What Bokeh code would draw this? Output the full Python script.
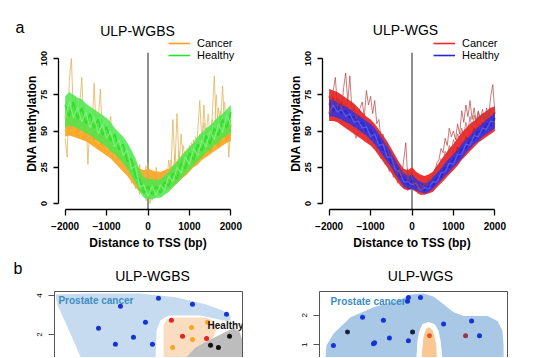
from bokeh.plotting import figure
from bokeh.models import (Legend, LegendItem, LinearAxis, FixedTicker,
                          Label, Range1d)
from bokeh.layouts import column, row
from bokeh.embed import file_html
from bokeh.resources import INLINE

FONT = "Liberation Sans"

# ---------------- data: panel a ----------------
tss_pos = list(range(-2000, 2001, 100))
tss_fine = list(range(-2000, 2001, 50))
x_ticks = [-2000, -1000, 0, 1000, 2000]
x_tick_labels = {-2000: "\u22122000", -1000: "\u22121000", 0: "0", 1000: "1000", 2000: "2000"}
y_ticks = [0, 25, 50, 75, 100]
Y_MIN, Y_MAX = -4.1, 104

wgbs_healthy_hi = [74,77,75,73,72,69,67,65,63,61,59, 56,52,49,46,42,37,31,23,18,17,
                   17,16,17,19,22,26,29,33,36,39, 42,46,49,52,54,57,60,62,65,68]
wgbs_healthy_lo = [52,54,53,52,50,49,47,45,43,41,39, 36,34,31,28,24,19,14,8,4,3,
                   3,4,4,6,8,11,14,17,20,23, 26,29,32,35,37,40,42,45,47,49]
wgbs_cancer_hi = [66,67,65,63,62,60,58,56,54,52,50, 47,44,41,38,35,31,27,24,23,24,
                  23,22,22,23,24,26,28,31,33,35, 38,40,43,45,47,50,52,54,56,58]
wgbs_cancer_lo = [46,47,46,45,44,43,41,39,37,35,33, 31,28,25,22,19,15,11,8,7,7,
                  7,7,8,9,10,12,14,17,19,22, 25,27,30,32,34,36,38,40,42,43]
wgbs_healthy_s1 = [68,60,70,58,66,55,62,52,58,47,53, 43,48,37,41,29,31,18,17,7,12,
                   6,12,7,15,12,21,17,28,24,35, 30,41,36,47,41,52,47,58,52,63]
wgbs_healthy_s2 = [58,71,59,67,56,63,52,60,48,55,45, 50,39,44,33,37,24,26,11,13,5,
                   12,6,13,9,19,15,25,21,32,27, 38,33,44,39,50,44,55,49,61,54]
wgbs_cancer_s1 = [60,52,61,50,58,48,55,44,50,40,46, 36,41,30,34,24,26,15,19,11,18,
                  10,17,11,18,13,22,17,27,22,32, 27,37,32,42,36,46,40,50,44,54]
wgbs_cancer_s2 = [50,61,51,57,49,56,46,51,41,47,37, 43,33,37,27,31,19,22,12,19,10,
                  18,11,17,12,20,15,24,21,29,25, 34,30,38,35,43,38,47,44,51,47]
wgbs_cancer_spiky1 = [45,32,85,100,62,70,58,66,87,55,63,27,58,52,83,50,58,79,48,55,44,
                      52,60,40,46,35,44,30,38,26,33,24,30,18,25,12,27,8,22,2,28,
                      0,18,4,25,6,20,10,22,14,30,20,58,25,62,28,48,30,36,28,40,
                      30,44,35,50,71,42,68,45,52,44,60,88,50,66,55,81,52,60,32,55]
wgbs_cancer_spiky2 = [60,70,52,66,55,74,50,60,48,68,52,60,45,56,47,62,44,50,40,48,38,
                      45,33,42,30,38,27,35,22,30,20,26,14,22,10,18,6,20,12,26,5,
                      20,2,16,8,22,12,18,15,24,16,30,22,34,26,36,27,40,30,38,33,
                      42,36,46,38,48,40,56,44,62,46,58,50,75,48,64,54,70,50,62,48]

wgs_healthy_hi = [72,71,70,68,67,65,63,61,59,57,55, 52,48,44,40,35,30,25,21,19,20,
                  17,15,14,15,18,21,24,28,31,34, 37,41,44,47,50,53,55,58,60,63]
wgs_healthy_lo = [60,60,59,58,56,55,53,51,49,47,44, 41,37,33,29,25,20,16,12,10,10,
                  9,8,7,8,10,13,16,19,22,25, 28,31,35,38,41,43,46,48,50,52]
wgs_cancer_hi = [79,78,77,75,73,71,69,66,63,60,58, 55,51,47,43,38,33,28,24,23,25,
                 22,20,19,20,22,26,30,34,38,41, 45,49,52,55,57,60,62,64,66,67]
wgs_cancer_lo = [57,57,56,54,52,50,48,46,44,42,40, 37,33,29,25,21,17,13,10,9,10,
                 8,6,6,7,8,11,14,17,20,23, 26,30,33,36,39,42,44,46,48,50]
wgs_cancer_s1 = [74,66,73,63,70,58,65,54,60,48,54, 43,46,35,37,26,28,17,20,12,21,
                 11,15,9,14,12,20,18,28,26,36, 33,43,40,50,45,55,50,60,55,63]
wgs_cancer_s2 = [62,73,61,70,58,65,53,61,49,55,44, 50,38,42,30,33,21,23,13,17,12,
                 17,9,13,10,17,15,24,22,31,28, 39,35,46,42,52,47,56,52,60,55]
wgs_healthy_s1 = [69,64,67,62,64,59,60,55,56,50,51, 45,44,37,36,28,27,19,18,13,16,
                  12,12,9,12,12,18,18,25,25,31, 31,38,38,44,44,50,49,55,54,59]
wgs_healthy_s2 = [63,68,63,65,60,62,56,57,52,53,46, 48,40,41,32,32,23,22,15,15,13,
                  14,9,11,10,15,15,21,22,28,27, 34,34,41,40,47,46,52,51,57,56]
wgs_cancer_spiky1 = [70,62,78,87,66,72,64,80,90,70,88,64,68,58,62,66,70,60,78,68,74,
                     62,71,55,58,45,48,40,42,33,35,27,28,20,24,18,30,42,16,22,18,
                     12,15,9,13,10,14,12,17,15,20,22,28,30,38,35,45,40,52,46,50,
                     44,55,48,64,56,68,60,71,58,66,56,64,58,62,57,66,60,74,82,62]
wgs_cancer_spiky2 = [62,75,60,70,58,68,55,62,57,64,52,60,50,45,52,48,55,45,50,42,48,
                     40,44,36,40,31,35,27,30,22,26,18,22,14,18,12,20,14,24,12,20,
                     9,14,7,11,8,12,10,16,13,19,18,25,24,31,29,36,33,40,36,44,
                     40,48,44,52,47,56,50,60,52,61,55,63,57,65,58,62,57,66,60,58]

# ---------------- data: panel b ----------------
b_left_ticks = [2, 4]
b_right_ticks = [1, 2]

wgbs_blue_region_x = [0.05,1.91,4.57,6.44,8.03,8.94,9.36,9.36,7.77,6.17,5.64,1.50,0.96,0.53,0.16]
wgbs_blue_region_y = [4.05,4.10,4.10,3.90,3.54,3.23,2.97,2.72,2.21,1.44,0.60,0.60,1.79,2.72,3.49]
wgbs_gap_region_x = [5.37,5.43,5.64,6.06,7.77,8.94,9.47,10.0,10.0]
wgbs_gap_region_y = [0.60,2.21,2.72,2.97,2.97,2.72,2.62,2.62,0.60]
wgbs_orange_region_x = [5.80,5.80,5.96,6.44,8.03,8.40,8.62,8.46,7.77,7.20]
wgbs_orange_region_y = [0.60,2.46,2.77,2.87,2.87,2.72,2.31,1.85,1.38,0.60]
wgbs_grey_region_x = [6.80,7.50,8.30,9.04,9.52,9.84,10.0,10.0]
wgbs_grey_region_y = [0.60,1.33,1.74,2.10,2.31,2.15,1.69,0.60]
wgbs_blue_x = [5.53,7.34,9.15,3.51,4.84,2.34,4.20,3.24,5.21]
wgbs_blue_y = [3.85,3.54,3.03,3.44,2.62,2.31,1.85,1.49,1.49]
wgbs_red_x = [6.22,6.81,8.09]
wgbs_red_y = [2.72,1.90,1.79]
wgbs_orange_x = [7.29,7.34,8.14,6.28]
wgbs_orange_y = [2.36,1.74,2.62,1.33]
wgbs_black_x = [9.31,8.30,8.72]
wgbs_black_y = [1.90,1.44,1.33]

wgs_blue_region_x = [0.30,0.37,0.74,1.65,2.87,4.31,4.84,5.53,6.06,6.60,7.13,7.66,8.94,9.47,9.73,9.79,9.79]
wgs_blue_region_y = [0.40,0.97,1.37,1.93,2.27,2.53,2.70,2.73,2.63,2.37,2.10,1.97,1.97,1.80,1.47,0.97,0.40]
wgs_gap_region_x = [5.80,6.12,6.33,6.44,6.56,5.14,5.21,5.32,5.48]
wgs_gap_region_y = [1.77,1.70,1.47,1.13,0.40,0.40,1.13,1.47,1.70]
wgs_orange_region_x = [5.80,6.01,6.12,6.22,6.24,5.41,5.48,5.53,5.64]
wgs_orange_region_y = [1.60,1.50,1.27,0.93,0.40,0.40,0.93,1.27,1.50]
wgs_blue_x = [4.73,4.68,5.37,2.29,3.40,6.60,8.09,8.51,3.72,2.93,2.87,4.73,0.74]
wgs_blue_y = [2.60,2.47,2.60,1.93,1.83,1.70,1.80,1.30,1.23,1.07,1.03,1.13,0.97]
wgs_navy_x = [1.49,4.95]
wgs_navy_y = [1.43,1.43]
wgs_orange_x = [5.85]
wgs_orange_y = [1.30]
wgs_maroon_x = [7.77]
wgs_maroon_y = [1.30]


def header(height, texts):
    h = figure(width=533, height=height, x_range=Range1d(0, 533), y_range=Range1d(0, height),
               output_backend="svg", toolbar_location=None, title_location=None,
               x_axis_location=None, y_axis_location=None,
               min_border_left=0, min_border_right=0, min_border_top=0, min_border_bottom=0)
    h.outline_line_color = None
    h.grid.visible = False
    for txt, x, y, size, align in texts:
        h.add_layout(Label(x=x, y=y, text=txt, text_font=FONT, text_font_size=size,
                           text_align=align, text_baseline="middle", text_color="black"))
    return h


def style_text_axis(ax, label_size, bold=True):
    ax.major_label_text_font = FONT
    ax.major_label_text_font_size = label_size
    ax.major_label_text_font_style = "bold" if bold else "normal"
    ax.major_label_text_color = "black"
    ax.axis_label_text_font = FONT
    ax.axis_label_text_font_size = "12px"
    ax.axis_label_text_font_style = "bold"
    ax.axis_label_text_color = "black"
    ax.minor_tick_line_color = None
    ax.major_tick_in = 0


def top_panel(width, left, right):
    p = figure(width=width, height=218, x_range=Range1d(-2160, 2160),
               y_range=Range1d(Y_MIN, 114.5), output_backend="svg", toolbar_location=None,
               title_location=None,
               min_border_left=left, min_border_right=right,
               min_border_top=0, min_border_bottom=46)
    p.outline_line_color = None
    p.grid.visible = False
    xa = p.xaxis[0]
    style_text_axis(xa, "10px")
    xa.ticker = FixedTicker(ticks=x_ticks)
    xa.major_label_overrides = x_tick_labels
    xa.bounds = (-2000, 2000)
    xa.axis_label = "Distance to TSS (bp)"
    xa.major_tick_out = 6
    xa.major_label_standoff = 6
    xa.axis_label_standoff = 3
    xa.axis_line_width = 1.3
    xa.major_tick_line_width = 1.3
    ya = p.yaxis[0]
    style_text_axis(ya, "9px")
    ya.ticker = FixedTicker(ticks=y_ticks)
    ya.bounds = (0, 100)
    ya.major_label_orientation = "vertical"
    ya.axis_label = "DNA methylation"
    ya.major_tick_out = 5
    ya.major_label_standoff = 6
    ya.axis_label_standoff = 0
    ya.axis_line_width = 1.3
    ya.major_tick_line_width = 1.3
    p.segment(x0=[0], y0=[Y_MIN], x1=[0], y1=[Y_MAX], line_color="#222222", line_width=1)
    return p


def add_legend(p, renderers, labels, loc):
    lg = Legend(items=[LegendItem(label=l, renderers=[r]) for l, r in zip(labels, renderers)],
                location=loc, background_fill_alpha=0, border_line_color=None,
                padding=0, spacing=0, margin=0, glyph_width=22, glyph_height=12,
                label_height=12, label_standoff=7, label_text_font=FONT,
                label_text_font_size="11px", label_text_color="black")
    p.add_layout(lg)


head_a = header(37, [("a", 15, 10, "16px", "left"),
                     ("ULP-WGBS", 137, 7, "14px", "center"),
                     ("ULP-WGS", 405, 8, "14px", "center")])

# ---- panel a, left ----
p1 = top_panel(267, 58, 30)
p1.varea(x=tss_pos, y1=wgbs_cancer_lo, y2=wgbs_cancer_hi, fill_color="#FFA51E", fill_alpha=0.95)
c1 = p1.line(tss_pos, wgbs_cancer_s1, line_color="#F5A020", line_width=1.6)
p1.line(tss_pos, wgbs_cancer_s2, line_color="#FFB444", line_width=1.2)
p1.line(tss_fine, wgbs_cancer_spiky1, line_color="#DDAE4A", line_width=0.8, line_alpha=0.9)
p1.line(tss_fine, wgbs_cancer_spiky2, line_color="#E3B458", line_width=0.8, line_alpha=0.8)
p1.varea(x=tss_pos, y1=wgbs_healthy_lo, y2=wgbs_healthy_hi, fill_color="#4BE84B", fill_alpha=0.85)
h1 = p1.line(tss_pos, wgbs_healthy_s1, line_color="#2EE02E", line_width=1.6)
p1.line(tss_pos, wgbs_healthy_s2, line_color="#7CF07C", line_width=1.2)
add_legend(p1, [c1, h1], ["Cancer", "Healthy"], (110, 148))

# ---- panel a, right ----
p2 = top_panel(266, 55, 32)
p2.varea(x=tss_pos, y1=wgs_cancer_lo, y2=wgs_cancer_hi, fill_color="#EE2222", fill_alpha=0.92)
c2 = p2.line(tss_pos, wgs_cancer_s1, line_color="#F02828", line_width=1.6)
p2.line(tss_pos, wgs_cancer_s2, line_color="#D01818", line_width=1.2)
p2.line(tss_fine, wgs_cancer_spiky2, line_color="#B84040", line_width=0.8, line_alpha=0.8)
p2.varea(x=tss_pos, y1=wgs_healthy_lo, y2=wgs_healthy_hi, fill_color="#3434DC", fill_alpha=0.9)
h2 = p2.line(tss_pos, wgs_healthy_s1, line_color="#2828D0", line_width=1.6)
p2.line(tss_pos, wgs_healthy_s2, line_color="#5A5AEE", line_width=1.2)
p2.line(tss_fine, wgs_cancer_spiky1, line_color="#B03A3A", line_width=0.8, line_alpha=0.85)
add_legend(p2, [c2, h2], ["Cancer", "Healthy"], (111, 148))


# ---- panel b ----
head_b = header(29, [("b", 13, 16, "16px", "left"),
                     ("ULP-WGBS", 152, 9, "14px", "center"),
                     ("ULP-WGS", 420, 9, "14px", "center")])


def bottom_panel(width, left, right, top, yr, ticks):
    p = figure(width=width, height=73, x_range=Range1d(0, 10), y_range=Range1d(*yr),
               output_backend="svg", toolbar_location=None, x_axis_location=None,
               title_location=None,
               min_border_left=left, min_border_right=right,
               min_border_top=top, min_border_bottom=0)
    p.outline_line_color = None
    p.grid.visible = False
    ya = p.yaxis[0]
    style_text_axis(ya, "8px", bold=False)
    ya.ticker = FixedTicker(ticks=ticks)
    ya.major_label_orientation = "vertical"
    ya.major_tick_out = 6
    ya.major_label_standoff = 6
    ya.axis_line_color = "#555555"
    ya.major_tick_line_color = "#555555"
    for loc in ("above", "right"):
        ax = LinearAxis(ticker=FixedTicker(ticks=[]), major_tick_out=0, major_tick_in=0,
                        minor_tick_out=0, minor_tick_in=0, major_label_standoff=0,
                        axis_line_color="#555555")
        p.add_layout(ax, loc)
    return p


p3 = bottom_panel(267, 54, 25, 7, (0.815, 4.2), b_left_ticks)
p3.patch(wgbs_blue_region_x, wgbs_blue_region_y, fill_color="#C6DBEF", line_color=None)
p3.patch(wgbs_gap_region_x, wgbs_gap_region_y, fill_color="white", line_color=None)
p3.patch(wgbs_orange_region_x, wgbs_orange_region_y, fill_color="#FADCC0", line_color=None)
p3.patch(wgbs_grey_region_x, wgbs_grey_region_y, fill_color="#BDBDBD", line_color=None)
p3.scatter(wgbs_blue_x, wgbs_blue_y, size=5, fill_color="#1733D6", line_color=None)
p3.scatter(wgbs_red_x, wgbs_red_y, size=5, fill_color="#E32222", line_color=None)
p3.scatter(wgbs_orange_x, wgbs_orange_y, size=5, fill_color="#F5A623", line_color=None)
p3.scatter(wgbs_black_x, wgbs_black_y, size=5, fill_color="#111111", line_color=None)
p3.add_layout(Label(x=0.21, y=3.74, text="Prostate cancer", text_font=FONT,
                    text_font_size="10px", text_font_style="bold", text_color="#3C8DC4",
                    text_baseline="middle"))
p3.add_layout(Label(x=8.14, y=2.46, text="Healthy", text_font=FONT,
                    text_font_size="10px", text_font_style="bold", text_color="#111111",
                    text_baseline="middle"))

p4 = bottom_panel(266, 52, 26, 6, (0.567, 2.8), b_right_ticks)
p4.patch(wgs_blue_region_x, wgs_blue_region_y, fill_color="#A8C8E6", line_color=None)
p4.patch(wgs_gap_region_x, wgs_gap_region_y, fill_color="white", line_color=None)
p4.patch(wgs_orange_region_x, wgs_orange_region_y, fill_color="#F9C892", line_color=None)
p4.scatter(wgs_blue_x, wgs_blue_y, size=5, fill_color="#1733D6", line_color=None)
p4.scatter(wgs_navy_x, wgs_navy_y, size=5, fill_color="#18223C", line_color=None)
p4.scatter(wgs_orange_x, wgs_orange_y, size=5, fill_color="#E8501C", line_color=None)
p4.scatter(wgs_maroon_x, wgs_maroon_y, size=5, fill_color="#9E3348", line_color=None)
p4.add_layout(Label(x=0.59, y=2.47, text="Prostate cancer", text_font=FONT,
                    text_font_size="10px", text_font_style="bold", text_color="#3C8DC4",
                    text_baseline="middle"))

layout = column(head_a, row(p1, p2), head_b, row(p3, p4))
open("out.html", "w").write(file_html(layout, INLINE))
